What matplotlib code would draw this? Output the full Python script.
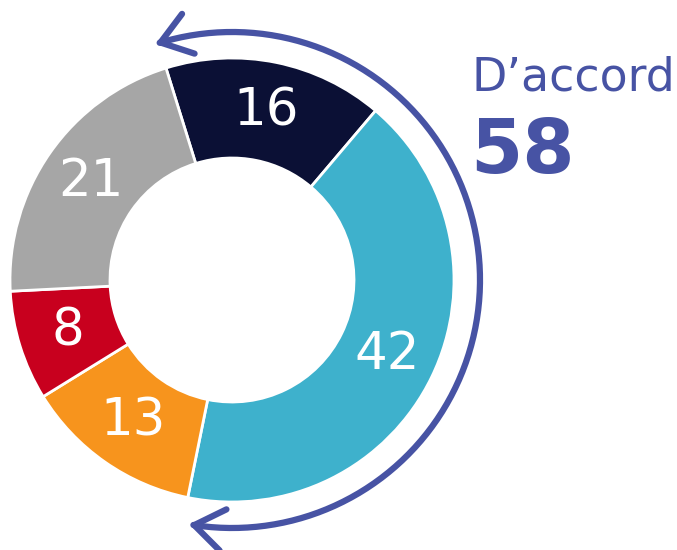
import numpy as np
import matplotlib.pyplot as plt
from matplotlib.patches import FancyArrowPatch
from matplotlib.path import Path

# Data
values = [16, 42, 13, 8, 21]
colors = ['#0b1035', '#3eb1cc', '#f7941d', '#c8001e', '#a6a6a6']
label_total = "D\u2019accord"
total_value = values[0] + values[1]
blue = '#4753a4'

W, H = 677, 550
fig = plt.figure(figsize=(W / 100, H / 100), dpi=100)
ax = fig.add_axes([0, 0, 1, 1])

cx, cy = 232, H - 280
R = 222
ring = 100

wedges, texts = ax.pie(values, colors=colors, startangle=107.3, counterclock=False,
                       radius=R, center=(cx, cy), labels=[str(v) for v in values],
                       labeldistance=0.775,
                       wedgeprops=dict(width=ring, edgecolor='white', linewidth=2),
                       textprops=dict(color='white', fontsize=37, ha='center', va='center'),
                       frame=True)
ax.set_xlim(0, W)
ax.set_ylim(0, H)
ax.set_aspect('equal')
ax.axis('off')

# Arc arrow around the "agree" part
ra = 248
theta = np.radians(np.linspace(108, -100, 200))
verts = np.column_stack([cx + ra * np.cos(theta), cy + ra * np.sin(theta)])
arrow = FancyArrowPatch(path=Path(verts), arrowstyle='<->,head_length=7,head_width=5',
                        color=blue, linewidth=4.5, mutation_scale=3,
                        capstyle='round', joinstyle='round')
ax.add_patch(arrow)

ax.text(472, H - 78, label_total, color=blue, fontsize=33, ha='left', va='center')
ax.text(470, H - 152, str(total_value), color=blue, fontsize=54, fontweight='bold',
        ha='left', va='center')

fig.savefig('out.png', dpi=100)
